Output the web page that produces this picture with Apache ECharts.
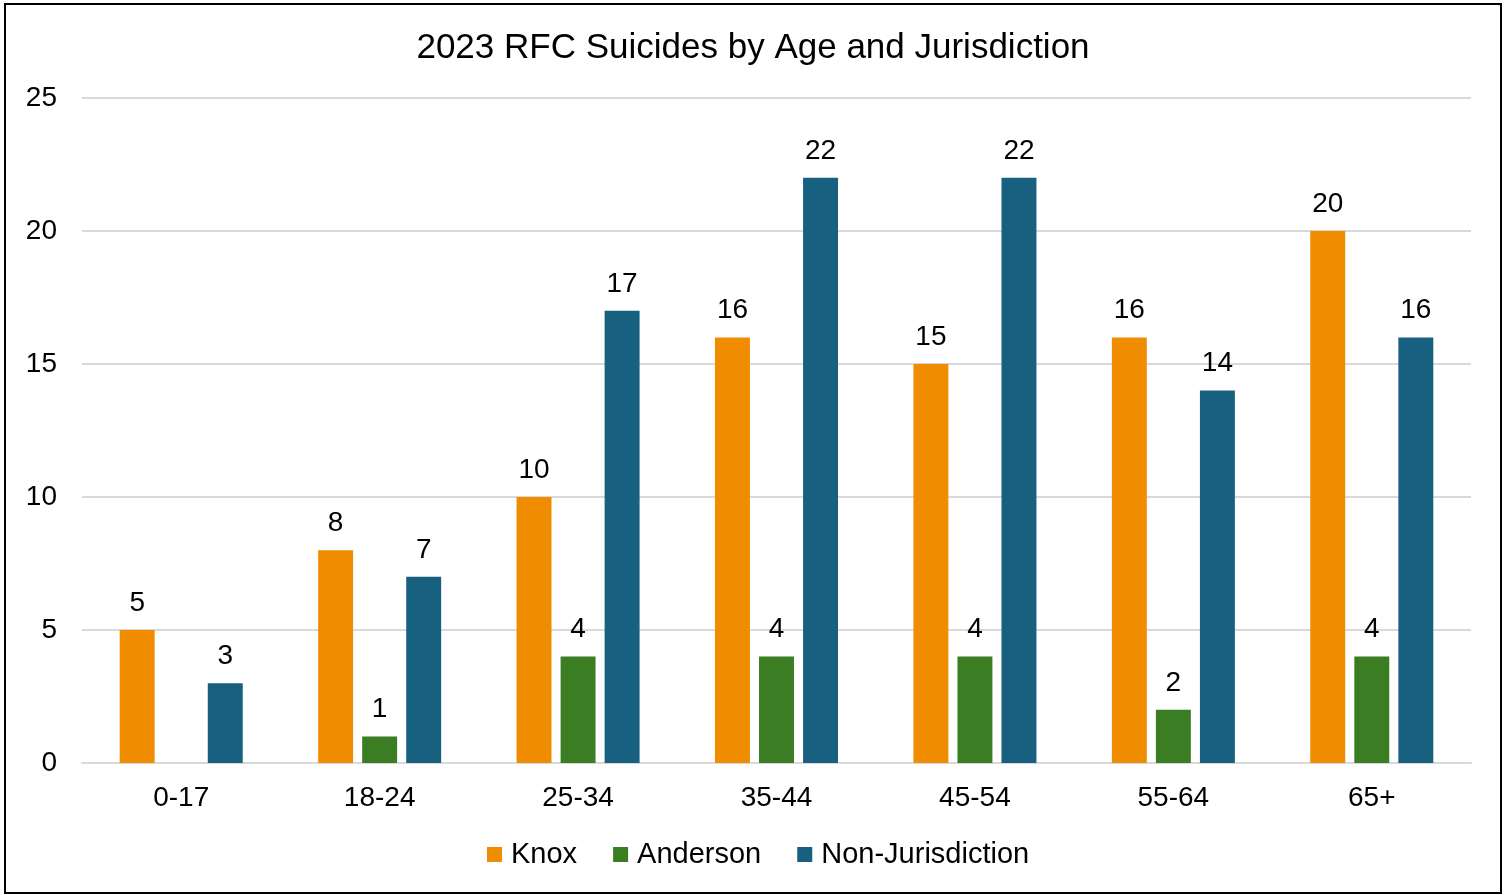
<!DOCTYPE html>
<html><head><meta charset="utf-8">
<script src="https://cdn.jsdelivr.net/npm/echarts@6/dist/echarts.min.js"></script>
<style>html,body{margin:0;padding:0;background:#fff}#c{width:1506px;height:895px}</style>
</head><body><div id="c"></div>
<script>
const categories = ['0-17','18-24','25-34','35-44','45-54','55-64','65+'];
const knox = [5, 8, 10, 16, 15, 16, 20];
const anderson = [0, 1, 4, 4, 4, 2, 4];
const nonJurisdiction = [3, 7, 17, 22, 22, 14, 16];
const yTicks = [0, 5, 10, 15, 20, 25];

const font = 'Liberation Sans, Arial, sans-serif';
const chart = echarts.init(document.getElementById('c'));
const label = {show: true, position: 'top', distance: 13, color: '#000', fontSize: 28, fontFamily: font,
  formatter: p => (p.value === 0 ? '' : p.value)};
function bar(name, data, color) {
  return {name, type: 'bar', data, itemStyle: {color}, barGap: '26%', barCategoryGap: '38%', label};
}
chart.setOption({
  animation: false,
  title: {text: '2023 RFC Suicides by Age and Jurisdiction', left: 'center', top: 26,
    textStyle: {fontSize: 35, fontWeight: 'normal', color: '#000', fontFamily: font}},
  grid: {left: 82, right: 35, top: 98, bottom: 132},
  legend: {bottom: 21, left: 482, itemWidth: 15, itemHeight: 15, itemGap: 36, icon: 'rect',
    textStyle: {fontSize: 29, color: '#000', fontFamily: font, padding: [0, 0, 0, 4]}},
  xAxis: {type: 'category', data: categories,
    axisLine: {lineStyle: {color: '#d9d9d9', width: 2}}, axisTick: {show: false},
    axisLabel: {fontSize: 28, color: '#000', margin: 21, fontFamily: font}},
  yAxis: {type: 'value', min: yTicks[0], max: yTicks[yTicks.length - 1], interval: 5,
    splitLine: {lineStyle: {color: '#d9d9d9', width: 2}},
    axisLabel: {fontSize: 28, color: '#000', margin: 25, fontFamily: font}},
  series: [bar('Knox', knox, '#F08C00'), bar('Anderson', anderson, '#3A7D22'), bar('Non-Jurisdiction', nonJurisdiction, '#17607F')],
  graphic: [{type: 'rect', shape: {x: 5, y: 4, width: 1496, height: 889}, style: {fill: 'none', stroke: '#000', lineWidth: 2}, silent: true}]
});
</script></body></html>
